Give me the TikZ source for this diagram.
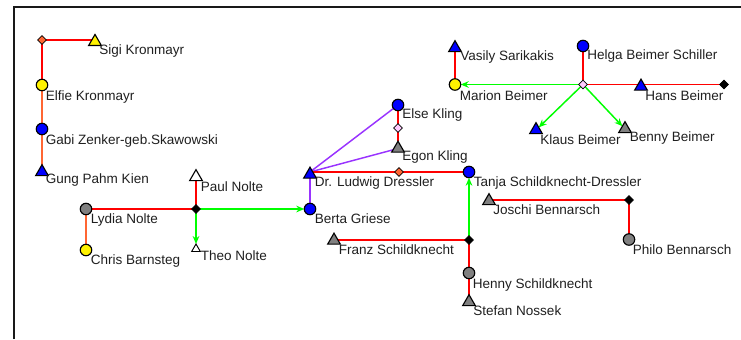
\documentclass[tikz,border=0pt]{standalone}
\usepackage{fontspec}
\setmainfont{Liberation Sans}
\usetikzlibrary{shapes.geometric,arrows.meta,backgrounds}
\definecolor{rededge}{HTML}{FF0000}
\definecolor{orangeedge}{HTML}{FF6633}
\definecolor{purpleedge}{HTML}{9933FF}
\definecolor{greenedge}{HTML}{00FF00}
\definecolor{pinkfill}{HTML}{FFCCFF}
\tikzset{
  x=0.75pt,y=-0.75pt,
  person/.style={draw=black,line width=0.85pt,inner sep=0pt,outer sep=0pt},
  circ/.style={person,circle,minimum size=8.6pt},
  tri/.style={person,regular polygon,regular polygon sides=3,minimum size=11pt},
  smalltri/.style={person,regular polygon,regular polygon sides=3,minimum size=7.5pt,line width=0.7pt},
  junc/.style={person,diamond,minimum size=6.6pt,line width=0.6pt},
  lab/.style={anchor=west,inner sep=0pt,font=\fontsize{10.15pt}{12pt}\selectfont,text=black!88},
  lk/.style={line width=1.1pt},
  redl/.style={lk,draw=rededge},
  orl/.style={lk,draw=orangeedge},
  pul/.style={lk,draw=purpleedge},
  grl/.style={lk,draw=greenedge,-{Stealth[length=6pt,width=5pt]}},
}
\begin{document}
\begin{tikzpicture}
\useasboundingbox (0,0) rectangle (741,339);
% persons
\node[junc,fill=orangeedge] (j1) at (42,40) {};
\node[tri,fill=yellow] (sigi) at (95,41.8) {};
\node[circ,fill=yellow] (elfie) at (42,85) {};
\node[circ,fill=blue] (gabi) at (42,129) {};
\node[tri,fill=blue] (gung) at (42,172) {};
\node[circ,fill=gray] (lydia) at (86,209) {};
\node[circ,fill=yellow] (chris) at (86,250) {};
\node[junc,fill=black] (j2) at (196,209) {};
\node[tri,fill=white] (paul) at (196,177) {};
\node[smalltri,fill=white] (theo) at (196,249) {};
\node[circ,fill=blue] (berta) at (310,209) {};
\node[tri,fill=blue] (ludwig) at (310,174.5) {};
\node[circ,fill=blue] (else) at (398,105) {};
\node[junc,fill=pinkfill] (j3) at (398,128) {};
\node[tri,fill=gray] (egon) at (398,148.5) {};
\node[junc,fill=orangeedge] (j4) at (399,172) {};
\node[circ,fill=blue] (tanja) at (469,172) {};
\node[tri,fill=gray] (franz) at (334,240.5) {};
\node[junc,fill=black] (j5) at (469,240) {};
\node[circ,fill=gray] (henny) at (469,273) {};
\node[tri,fill=gray] (stefan) at (469,302) {};
\node[tri,fill=gray] (joschi) at (489,201) {};
\node[junc,fill=black] (j6) at (629,200) {};
\node[circ,fill=gray] (philo) at (629,239.5) {};
\node[tri,fill=blue] (vasily) at (455,48) {};
\node[circ,fill=yellow] (marion) at (455,84.5) {};
\node[junc,fill=pinkfill] (j7) at (583,84.5) {};
\node[circ,fill=blue] (helga) at (583,46) {};
\node[tri,fill=blue] (hans) at (641,86.5) {};
\node[junc,fill=black] (j8) at (724,84.5) {};
\node[tri,fill=blue] (klaus) at (536,130) {};
\node[tri,fill=gray] (benny) at (625,129) {};
% labels
\node[lab] (lsigi) at (99,51) {Sigi Kronmayr};
\node[lab] (lelfie) at (45.5,96.5) {Elfie Kronmayr};
\node[lab] (lgabi) at (45.5,140.5) {Gabi Zenker-geb.Skawowski};
\node[lab] (lgung) at (45.5,180) {Gung Pahm Kien};
\node[lab] (llydia) at (90.5,220) {Lydia Nolte};
\node[lab] (lchris) at (90.5,261) {Chris Barnsteg};
\node[lab] (lpaul) at (200.5,187) {Paul Nolte};
\node[lab] (ltheo) at (200.5,256) {Theo Nolte};
\node[lab] (lludwig) at (314.5,183) {Dr. Ludwig Dressler};
\node[lab] (lberta) at (314.5,219) {Berta Griese};
\node[lab] (lelse) at (402,115) {Else Kling};
\node[lab] (legon) at (402,157) {Egon Kling};
\node[lab] (ltanja) at (473.5,183) {Tanja Schildknecht-Dressler};
\node[lab] (lfranz) at (338.5,250) {Franz Schildknecht};
\node[lab] (ljoschi) at (493,210) {Joschi Bennarsch};
\node[lab] (lphilo) at (632.5,250) {Philo Bennarsch};
\node[lab] (lhenny) at (472.5,284.5) {Henny Schildknecht};
\node[lab] (lstefan) at (473,311) {Stefan Nossek};
\node[lab] (lvasily) at (460,57) {Vasily Sarikakis};
\node[lab] (lhelga) at (587,56) {Helga Beimer Schiller};
\node[lab] (lmarion) at (459.5,95.5) {Marion Beimer};
\node[lab] (lhans) at (645,95.5) {Hans Beimer};
\node[lab] (lklaus) at (540,140) {Klaus Beimer};
\node[lab] (lbenny) at (629.5,138) {Benny Beimer};
\begin{pgfonlayer}{background}
  % frame
  \coordinate (fa) at (13.5,339);
  \coordinate (fb) at (13.5,6.5);
  \coordinate (fc) at (741,6.5);
  \draw[line width=1.5pt,draw=black!90] (fa) -- (fb) -- (fc);
  % links
  \draw[redl] (j1) -- (j1 -| sigi);
  \draw[redl] (j1) -- (elfie);
  \draw[orl] (elfie) -- (gabi);
  \draw[orl] (gabi) -- (gung);
  \draw[redl] (lydia) -- (j2);
  \draw[orl] (lydia) -- (chris);
  \draw[redl] (paul) -- (j2);
  \draw[grl] (j2) -- (theo);
  \draw[grl] (j2) -- (berta);
  \draw[pul] (ludwig) -- (berta);
  \draw[pul] (ludwig |- j4) -- (else);
  \draw[pul] (ludwig |- j4) -- (egon);
  \draw[redl] (ludwig |- j4) -- (j4);
  \draw[redl] (j4) -- (tanja);
  \draw[redl] (else) -- (j3);
  \draw[redl] (j3) -- (egon);
  \draw[grl] (j5) -- (tanja);
  \draw[redl] (j5) -- (j5 -| franz);
  \draw[redl] (j5) -- (henny);
  \draw[redl] (henny) -- (stefan);
  \draw[redl] (j6) -- (j6 -| joschi);
  \draw[redl] (j6) -- (philo);
  \draw[redl] (vasily) -- (marion);
  \draw[grl] (j7) -- (marion);
  \draw[redl] (j7) -- (helga);
  \draw[redl] (j7) -- (j7 -| hans);
  \draw[redl] (j8) -- (j8 -| hans);
  \draw[grl] (j7) -- (klaus);
  \draw[grl] (j7) -- (benny);
\end{pgfonlayer}
\end{tikzpicture}
\end{document}
